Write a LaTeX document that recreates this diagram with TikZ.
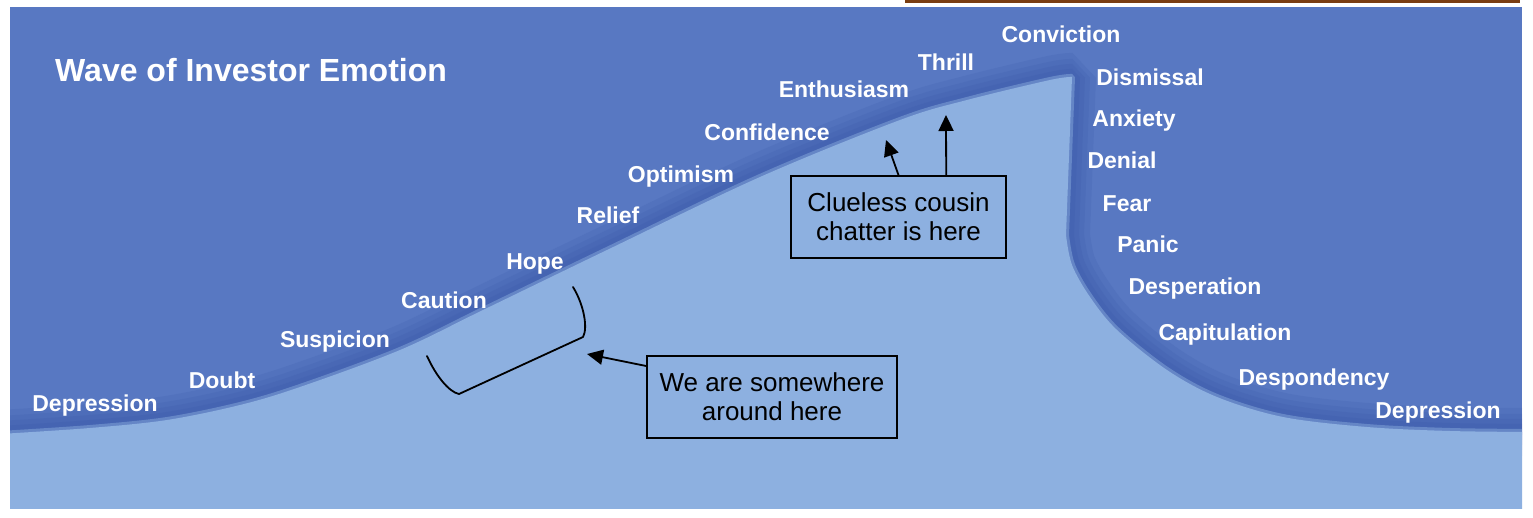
\documentclass[tikz,border=0pt]{standalone}
\usepackage{fontspec}
\setmainfont{Liberation Sans}
\usetikzlibrary{arrows.meta,calc}
\definecolor{bgblue}{HTML}{5878C2}
\definecolor{shadeblue}{HTML}{3554A6}
\definecolor{waveblue}{HTML}{8DB0E0}
\definecolor{rimbrown}{HTML}{7A3E12}
\begin{document}
\begin{tikzpicture}[x=1pt,y=-1pt,
  lbl/.style={text=white,font=\fontsize{23}{27}\selectfont\bfseries,anchor=base,inner sep=0pt},
  ttl/.style={text=white,font=\fontsize{32}{36}\selectfont\bfseries,anchor=base west,inner sep=0pt},
  note/.style={draw=black,line width=1.8pt,text=black,font=\fontsize{26}{29}\selectfont,align=center,inner sep=0pt},
  pointer/.style={line width=1.8pt,-{Triangle[length=16pt,width=15pt]}},
  brace/.style={line width=1.8pt,line join=round,line cap=round},
  shade/.style={draw=shadeblue,draw opacity=0.16,line join=bevel}]
\useasboundingbox (0,0) rectangle (1533,518);
\fill[white] (0,0) rectangle (1533,518);
\fill[bgblue] (10,7) rectangle (1522,508);
\draw[rimbrown,line width=2.5pt] (905,1.3) -- (1520,1.3);
\begin{scope}
\clip (10,7) rectangle (1522,508);
\foreach \w in {48,36,26,16} {
\draw[shade,line width=\w pt]
  plot[smooth,tension=0.55] coordinates {(0,434) (90,428) (167,420) (240,405) (300,387) (400,350) (483,310) (607,250) (760,177) (900,120) (967,100) (1050,80) (1072,77)}
  -- (1066,235)
  -- plot[smooth,tension=0.55] coordinates {(1066,235) (1072,265) (1090,297) (1117,330) (1167,370) (1217,397) (1283,417) (1367,427) (1450,431) (1533,432)};
}
\fill[waveblue]
  plot[smooth,tension=0.55] coordinates {(0,434) (90,428) (167,420) (240,405) (300,387) (400,350) (483,310) (607,250) (760,177) (900,120) (967,100) (1050,80) (1072,77)}
  -- (1066,235)
  -- plot[smooth,tension=0.55] coordinates {(1066,235) (1072,265) (1090,297) (1117,330) (1167,370) (1217,397) (1283,417) (1367,427) (1450,431) (1533,432)}
  -- (1533,518) -- (0,518) -- cycle;
\draw[waveblue,opacity=0.45,line width=6pt,line join=bevel]
  plot[smooth,tension=0.55] coordinates {(0,434) (90,428) (167,420) (240,405) (300,387) (400,350) (483,310) (607,250) (760,177) (900,120) (967,100) (1050,80) (1072,77)}
  -- (1066,235)
  -- plot[smooth,tension=0.55] coordinates {(1066,235) (1072,265) (1090,297) (1117,330) (1167,370) (1217,397) (1283,417) (1367,427) (1450,431) (1533,432)};
\end{scope}
\node[ttl] (title) at (55,82) {Wave of Investor Emotion};
\node[lbl] (depL) at (95,411) {Depression};
\node[lbl] (doubt) at (222,388) {Doubt};
\node[lbl] (susp) at (335,348) {Suspicion};
\node[lbl] (caut) at (444,309) {Caution};
\node[lbl] (hope) at (535,270) {Hope};
\node[lbl] (relief) at (608,224) {Relief};
\node[lbl] (optim) at (681,183) {Optimism};
\node[lbl] (conf) at (767,141) {Confidence};
\node[lbl] (enth) at (844,98) {Enthusiasm};
\node[lbl] (thrill) at (946,71) {Thrill};
\node[lbl] (conv) at (1061,43) {Conviction};
\node[lbl] (dism) at (1150,86) {Dismissal};
\node[lbl] (anx) at (1134,127) {Anxiety};
\node[lbl] (denial) at (1122,169) {Denial};
\node[lbl] (fear) at (1127,212) {Fear};
\node[lbl] (panic) at (1148,253) {Panic};
\node[lbl] (desp) at (1195,295) {Desperation};
\node[lbl] (capit) at (1225,341) {Capitulation};
\node[lbl] (despond) at (1314,385) {Despondency};
\node[lbl] (depR) at (1438,418) {Depression};
\node[note,minimum width=250pt,minimum height=82pt] (here) at (772,397) {We are somewhere\\around here};
\node[note,minimum width=215pt,minimum height=82pt] (cousin) at (898.5,217) {Clueless cousin\\chatter is here};
\coordinate (tipA) at (886,140);
\coordinate (tipB) at (946,115);
\coordinate (tipC) at (587,354);
\draw[pointer] (cousin.north) -- (tipA);
\draw[pointer] ($(cousin.north west)!0.72!(cousin.north east)$) -- (tipB);
\draw[pointer] ($(here.north west)!0.13!(here.south west)$) -- (tipC);
\draw[brace] (427,356) .. controls (436,376) and (449,392) .. (459,394) -- (583,337) .. controls (588,328) and (584,305) .. (573,287);
\end{tikzpicture}
\end{document}
